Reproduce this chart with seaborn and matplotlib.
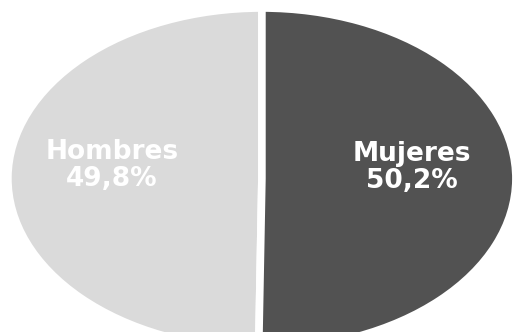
import matplotlib
matplotlib.use("Agg")
import matplotlib.pyplot as plt
import seaborn as sns

# Datos: distribución por sexo
categorias = ["Hombres", "Mujeres"]
porcentajes = [49.8, 50.2]
colores = ["#dadada", "#525252"]

sns.set_theme(style="white")
plt.rcParams["font.family"] = ["DejaVu Sans"]

fig = plt.figure(figsize=(5.22, 3.32), dpi=100)
ax = fig.add_axes([0, 0, 1, 1])

nombres = iter(categorias)
wedges, textos, autotextos = ax.pie(
    porcentajes,
    colors=colores,
    startangle=90,
    counterclock=True,
    autopct=lambda p: f"{next(nombres)}\n{p:.1f}%".replace(".", ","),
    pctdistance=0.59,
    wedgeprops=dict(edgecolor="white", linewidth=5.5),
    textprops=dict(color="white", fontsize=19, fontweight="bold"),
)
for t in autotextos:
    x, y = t.get_position()
    t.set_position((x, y + 0.07))
    t.set_linespacing(1.05)

# elipse estirada como en la imagen original
ax.set_aspect("auto")
ax.set_xlim(-1.031, 1.024)
ax.set_ylim(-0.900, 1.047)
ax.axis("off")

fig.savefig("out.png", dpi=100, facecolor="white")
